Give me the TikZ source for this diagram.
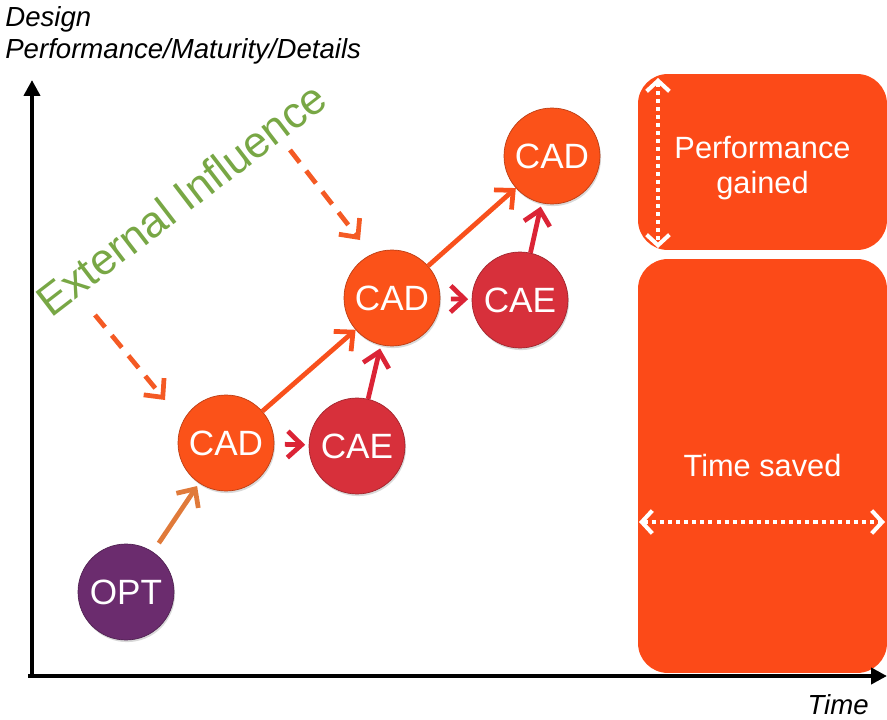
\documentclass[tikz,border=0pt]{standalone}
\usepackage{fontspec}
\setmainfont{Liberation Sans}
\usetikzlibrary{arrows.meta,shadows}

\definecolor{cadorange}{HTML}{FB5219}
\definecolor{caered}{HTML}{D7303B}
\definecolor{optpurple}{HTML}{6B2C6E}
\definecolor{panelorange}{HTML}{FC4A18}
\definecolor{extgreen}{HTML}{78A745}
\definecolor{optarrow}{HTML}{E07A3A}
\definecolor{cadarrow}{HTML}{F8501C}
\definecolor{caearrow}{HTML}{DB2436}
\definecolor{extarrow}{HTML}{F45A24}

\begin{document}
\begin{tikzpicture}[x=0.02cm, y=-0.02cm,
    stage/.style={circle, minimum size=1.92cm, inner sep=0pt, text=white,
        draw=#1!75!black, line width=0.4pt, fill=#1,
        font=\fontsize{20}{24}\selectfont,
        drop shadow={opacity=0.3, shadow xshift=0.6pt, shadow yshift=-1.2pt}},
    flow/.style={line width=2.7pt, draw=#1, -{Straight Barb[length=8pt, width=15pt]}},
    panel/.style={fill=panelorange, rounded corners=17pt, text=white, align=center,
        font=\fontsize{17.5}{20.4}\selectfont, inner sep=0pt},
    span/.style={white, line width=2.3pt, dash pattern=on 2.3pt off 2.3pt,
        {Straight Barb[length=6pt, width=13pt]}-{Straight Barb[length=6pt, width=13pt]}},
    axis/.style={line width=2.8pt, -{Triangle[length=9pt, width=9pt]}}]
    \useasboundingbox (0,0) rectangle (887,720);

    % Axes
    \coordinate (origin) at (32,676);
    \coordinate (ytop) at (32,80);
    \coordinate (xstart) at (28,676);
    \coordinate (xend) at (887,676);
    \node[anchor=north west, align=left, inner sep=0pt, font=\itshape\fontsize{15.7}{18.1}\selectfont]
        (ylabel) at (5,6) {Design\\Performance/Maturity/Details};
    \node[anchor=base east, inner sep=0pt, font=\itshape\fontsize{15.7}{18}\selectfont]
        (xlabel) at (869,714) {Time};

    % Gains on the right
    \node[panel, minimum width=4.98cm, minimum height=3.52cm, text height=40pt] (gain) at (762.5,162) {Performance\\gained};
    \node[panel, minimum width=4.98cm, minimum height=8.28cm] (saved) at (762.5,466) {Time saved};

    % Design stages
    \node[stage=optpurple] (opt) at (126,592) {OPT};
    \node[stage=cadorange] (cad1) at (226,443) {CAD};
    \node[stage=caered] (cae1) at (357,446) {CAE};
    \node[stage=cadorange] (cad2) at (392,298) {CAD};
    \node[stage=caered] (cae2) at (520,300) {CAE};
    \node[stage=cadorange] (cad3) at (552,156) {CAD};

    % Flow between stages
    \draw[flow=optarrow, shorten <=6pt, shorten >=2pt] (opt) -- (cad1);
    \draw[flow=cadarrow] (cad1) -- (cad2);
    \draw[flow=cadarrow] (cad2) -- (cad3);
    \draw[flow=caearrow, shorten <=6pt, shorten >=2pt] (cad1) -- (cae1);
    \draw[flow=caearrow, shorten <=6pt, shorten >=2pt] (cad2) -- (cae2);
    \draw[flow=caearrow, shorten >=2pt] (cae1) -- (cad2);
    \draw[flow=caearrow, shorten >=2pt] (cae2) -- (cad3);

    % External influence
    \node[text=extgreen, rotate=37.5, font=\fontsize{25}{30}\selectfont] (ext) at (181,199) {External Influence};
    \coordinate (ext1a) at (95,315);
    \coordinate (ext1b) at (165,400);
    \coordinate (ext2a) at (290,150);
    \coordinate (ext2b) at (360,240);
    \draw[flow=extarrow, dash pattern=on 9pt off 6pt] (ext1a) -- (ext1b);
    \draw[flow=extarrow, dash pattern=on 9pt off 6pt] (ext2a) -- (ext2b);

    % Spans
    \coordinate (gaintop) at (658,78);
    \coordinate (gainbot) at (658,248);
    \coordinate (savedleft) at (639,522);
    \coordinate (savedright) at (885,522);
    \draw[span] (gaintop) -- (gainbot);
    \draw[span] (savedleft) -- (savedright);

    \draw[axis] (xstart) -- (xend);
    \draw[axis] (origin) -- (ytop);
\end{tikzpicture}
\end{document}
